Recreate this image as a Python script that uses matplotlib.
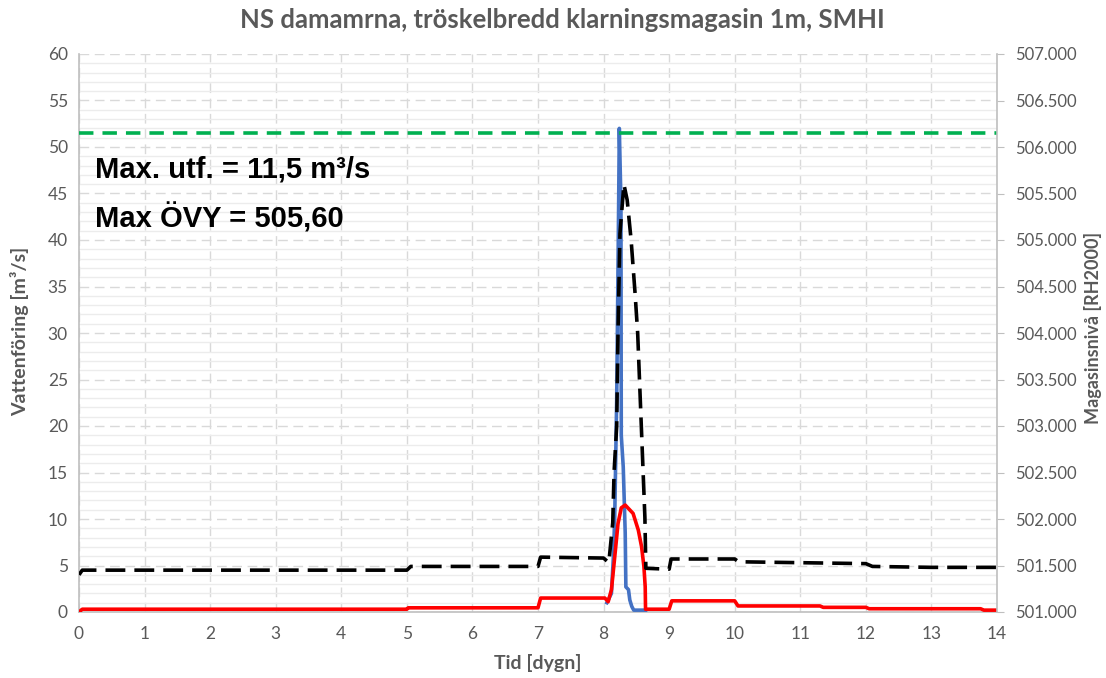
import matplotlib
matplotlib.use("Agg")
import matplotlib.pyplot as plt
from matplotlib.ticker import MultipleLocator, FuncFormatter

# Inflow (blue), m3/s
t_inflow = [8.05, 8.12, 8.15, 8.17, 8.20, 8.23, 8.24, 8.265, 8.27, 8.30, 8.33,
            8.34, 8.38, 8.40, 8.43, 8.46, 8.64]
inflow = [1.0, 2.0, 6.0, 10.2, 22.8, 44.0, 52.0, 44.0, 19.0, 15.6, 8.5,
          2.7, 2.4, 1.3, 0.6, 0.2, 0.2]

# Outflow (red), m3/s
t_outflow = [0.0, 0.05, 5.0, 5.02, 7.0, 7.04, 8.02, 8.07, 8.12, 8.17, 8.22, 8.27,
             8.33, 8.45, 8.53, 8.58, 8.615, 8.635, 8.64, 9.0, 9.04, 10.0, 10.05,
             11.3, 11.35, 12.0, 12.05, 13.75, 13.8, 14.0]
outflow = [0.0, 0.3, 0.3, 0.45, 0.45, 1.5, 1.5, 1.1, 2.4, 5.9, 9.5, 11.2,
           11.5, 10.6, 8.8, 7.0, 4.9, 2.7, 0.3, 0.3, 1.2, 1.2, 0.65,
           0.65, 0.5, 0.5, 0.35, 0.35, 0.2, 0.2]

# Reservoir level (black dashed), m RH2000
t_level = [0.0, 0.05, 5.0, 5.06, 7.0, 7.04, 8.0, 8.08, 8.14, 8.16, 8.20, 8.22,
           8.25, 8.31, 8.36, 8.42, 8.48, 8.52, 8.56, 8.60, 8.63, 8.645, 9.0,
           9.03, 10.0, 10.06, 12.0, 12.1, 13.0, 14.0]
level = [501.40, 501.45, 501.45, 501.49, 501.49, 501.59, 501.58, 501.53,
         501.96, 502.50, 503.00, 504.00, 505.07, 505.60, 505.43, 505.00,
         504.43, 504.00, 503.28, 502.56, 502.02, 501.47, 501.46, 501.57,
         501.57, 501.54, 501.52, 501.49, 501.48, 501.48]

# Dam crest level (green dashed)
crest_level = 506.15

x_ticks = list(range(0, 15))
flow_ticks = list(range(0, 61, 5))
level_ticks = [501.0 + 0.5 * i for i in range(13)]

title = "NS damamrna, tröskelbredd klarningsmagasin 1m, SMHI"
note_outflow = "Max. utf. = 11,5 m³/s"
note_level = "Max ÖVY = 505,60"

GRAY = "#595959"
SPINE = "#bfbfbf"
FONT = ["Lato", "DejaVu Sans"]

plt.rcParams["font.family"] = FONT

fig = plt.figure(figsize=(11.06, 6.78), dpi=100)
ax = fig.add_axes([79 / 1106, 1 - 612 / 678, (997 - 79) / 1106, (612 - 54) / 678])
ax2 = ax.twinx()

ax.set_xlim(0, 14)
ax.set_ylim(0, 60)
ax2.set_ylim(501.0, 507.0)

ax.set_xticks(x_ticks)
ax.set_yticks(flow_ticks)
ax.yaxis.set_minor_locator(MultipleLocator(1))
ax2.set_yticks(level_ticks)
ax2.yaxis.set_major_formatter(FuncFormatter(lambda v, p: f"{v:.3f}"))

ax.grid(which="minor", axis="y", color="#ececec", lw=1.0, ls="-")
ax.grid(which="major", axis="both", color="#d9d9d9", lw=1.0, ls=(0, (7, 4)))
ax.set_axisbelow(True)

ax.tick_params(axis="both", which="both", length=0, labelsize=12.5,
               labelcolor=GRAY, pad=8)
ax.tick_params(axis="x", pad=10)
ax2.tick_params(axis="y", length=5, color=SPINE, labelsize=12,
                labelcolor=GRAY, pad=8)

for a in (ax, ax2):
    for s in a.spines.values():
        s.set_visible(False)
ax.spines["left"].set_visible(True)
ax.spines["bottom"].set_visible(True)
ax2.spines["right"].set_visible(True)
for s in (ax.spines["left"], ax.spines["bottom"], ax2.spines["right"]):
    s.set_color(SPINE)
    s.set_linewidth(1.2)

ax.plot(t_outflow, outflow, color="#ff0000", lw=2.6, zorder=4)
ax.plot(t_inflow, inflow, color="#4472c4", lw=2.6, zorder=3)
ax2.plot(t_level, level, color="black", lw=2.6, ls=(0, (5.5, 2.5)))
ax2.axhline(crest_level, color="#00b050", lw=2.6, ls=(0, (4, 2.5)))

note_font = ["Liberation Sans", "DejaVu Sans"]
ax.text(0.24, 47.6, note_outflow, fontsize=21, fontweight="bold",
        family=note_font, va="center", ha="left", zorder=6)
ax.text(0.24, 42.3, note_level, fontsize=21, fontweight="bold",
        family=note_font, va="center", ha="left", zorder=6)

fig.text(562 / 1106, 1 - 20 / 678, title, ha="center", va="center",
         fontsize=18.5, fontweight="bold", color=GRAY)
fig.text(538 / 1106, 1 - 663 / 678, "Tid [dygn]", ha="center", va="center",
         fontsize=14, fontweight="bold", color=GRAY)
fig.text(20 / 1106, 1 - 331 / 678, "Vattenföring [m³/s]", ha="center", va="center",
         rotation=90, fontsize=14, fontweight="bold", color=GRAY)
fig.text(1093 / 1106, 1 - 328 / 678, "Magasinsnivå [RH2000]", ha="center", va="center",
         rotation=90, fontsize=13, fontweight="bold", color=GRAY)

fig.savefig("out.png", dpi=100, facecolor="white")
